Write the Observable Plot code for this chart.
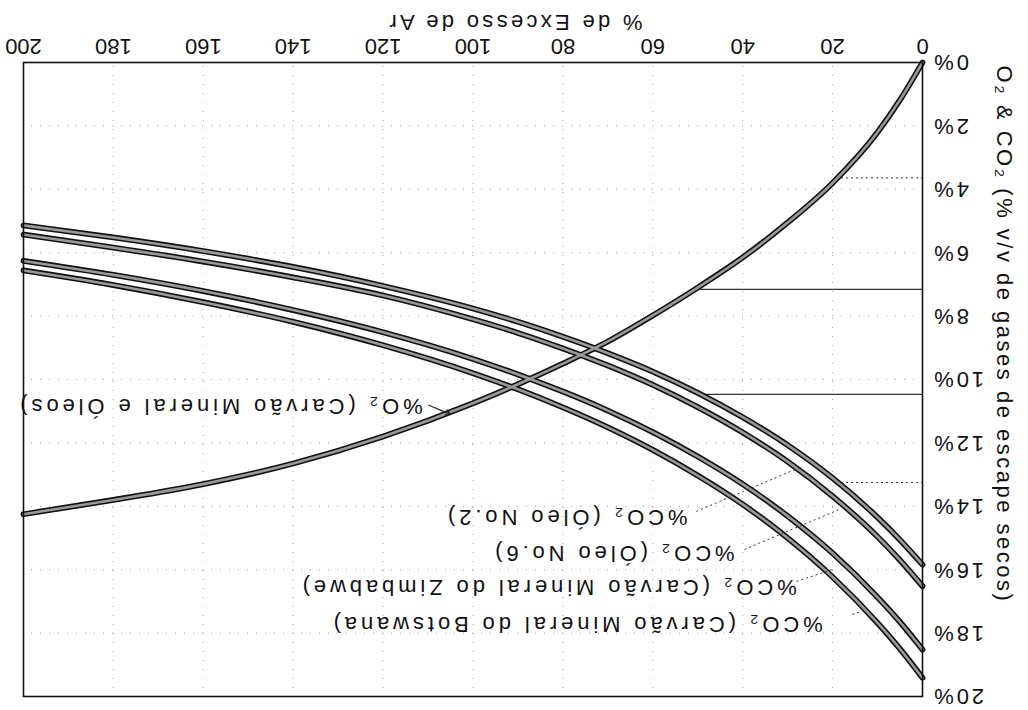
<!DOCTYPE html>
<html>
<head>
<meta charset="utf-8">
<script src="https://cdn.jsdelivr.net/npm/d3@7"></script>
<script src="https://cdn.jsdelivr.net/npm/@observablehq/plot@0.6"></script>
<style>
  html, body { margin: 0; padding: 0; background: #fff; overflow: hidden; }
  #wrap { width: 1028px; height: 710px; transform: rotate(180deg); transform-origin: 50% 50%; }
  #wrap svg { display: block; }
  #wrap svg text { font-family: "Liberation Sans", Arial, sans-serif !important; letter-spacing: 3.9px; }
  #wrap svg [aria-label^="x-axis"] text { letter-spacing: 0px !important; }
  #wrap svg [aria-label^="y-axis"] text { letter-spacing: 2.8px !important; }
  #wrap svg text.ytitle { letter-spacing: 2.5px !important; }
  #wrap svg text.xtitle { letter-spacing: 3.3px !important; }
</style>
</head>
<body>
<div id="wrap"></div>
<script>
// % de Excesso de Ar
const excessAir = [0, 5, 10, 20, 30, 40, 50, 60, 70, 80, 90, 100, 120, 140, 160, 180, 200];
// %O2 (Carvão Mineral e Óleos)
const o2 = [0, 1.18, 2.2, 3.8, 5.05, 6.15, 7.1, 7.98, 8.8, 9.5, 10.15, 10.75, 11.8, 12.65, 13.3, 13.8, 14.25];
// %CO2 curves
const co2OleoNo2 = [15.84, 15.06, 14.35, 13.11, 12.07, 11.19, 10.42, 9.75, 9.17, 8.65, 8.18, 7.76, 7.05, 6.45, 5.95, 5.52, 5.14];
const co2OleoNo6 = [16.52, 15.70, 14.96, 13.68, 12.59, 11.67, 10.87, 10.17, 9.56, 9.02, 8.53, 8.10, 7.35, 6.78, 6.28, 5.84, 5.43];
const co2Zimbabwe = [18.52, 17.65, 16.87, 15.48, 14.31, 13.30, 12.43, 11.66, 10.98, 10.38, 9.84, 9.35, 8.51, 7.81, 7.21, 6.70, 6.26];
const co2Botswana = [19.41, 18.50, 17.68, 16.23, 15.00, 13.94, 13.03, 12.22, 11.51, 10.88, 10.31, 9.80, 8.92, 8.18, 7.56, 7.02, 6.56];

const seriesNames = ["O2", "Óleo No.2", "Óleo No.6", "Zimbabwe", "Botswana"];
const seriesValues = [o2, co2OleoNo2, co2OleoNo6, co2Zimbabwe, co2Botswana];

const xTicks = [0, 20, 40, 60, 80, 100, 120, 140, 160, 180, 200];
const yTicks = [0, 2, 4, 6, 8, 10, 12, 14, 16, 18, 20];

const xTitle = "% de Excesso de Ar";
const yTitle = "O₂ & CO₂ (% v/v de gases de escape secos)";

// curve labels
const labelTexts = ["%CO₂ (Óleo No.2)", "%CO₂ (Óleo No.6)", "%CO₂ (Carvão Mineral do Zimbabwe)", "%CO₂ (Carvão Mineral do Botswana)", "%O₂ (Carvão Mineral e Óleos)"];
const labelAtX = [52.3, 41.8, 28.0, 22.2, 111.2];
const labelAtY = [14.35, 15.46, 16.56, 17.73, 10.85];

// leader lines (from label to curve)
const leaderX1 = [50.3, 39.6, 28.0, 15.6];
const leaderY1 = [14.16, 15.36, 16.37, 17.41];
const leaderX2 = [26.7, 18.5, 20.0, 13.6];
const leaderY2 = [12.74, 14.10, 15.99, 17.32];

// reading lines drawn on the original chart
const readSolidY = [7.16, 10.47];
const readSolidX2 = [49.6, 49.0];
const readDotY = [3.64, 13.25];
const readDotX2 = [18.3, 18.0];

const curves = seriesNames.flatMap((name, i) =>
  excessAir.map((ea, j) => ({series: name, ea, v: seriesValues[i][j]})));
const labels = labelTexts.map((t, i) => ({t, x: labelAtX[i], y: labelAtY[i]}));
const leaders = leaderX1.map((x1, i) => ({x1, y1: leaderY1[i], x2: leaderX2[i], y2: leaderY2[i]}));
const readSolid = readSolidY.map((y, i) => ({y, x2: readSolidX2[i]}));
const readDot = readDotY.map((y, i) => ({y, x2: readDotX2[i]}));

const chart = Plot.plot({
  width: 1028,
  height: 710,
  marginLeft: 105,
  marginRight: 24,
  marginTop: 13,
  marginBottom: 63,
  style: {fontFamily: "'Liberation Sans', Arial, sans-serif", fontSize: "22px", color: "#111", background: "#fff"},
  x: {domain: [0, 200], ticks: xTicks, tickSize: 0, tickPadding: 8, label: null},
  y: {domain: [0, 20], ticks: yTicks, tickSize: 0, tickPadding: 9, tickFormat: d => d + "%", label: null},
  marks: [
    Plot.ruleX(xTicks.slice(1, -1), {stroke: "#777", strokeDasharray: "1,8", strokeOpacity: 0.7}),
    Plot.ruleY(yTicks.slice(1, -1), {stroke: "#777", strokeDasharray: "1,8", strokeOpacity: 0.7}),
    Plot.ruleY(readSolid, {y: "y", x1: 0, x2: "x2", stroke: "#333", strokeWidth: 1.2}),
    Plot.ruleY(readDot, {y: "y", x1: 0, x2: "x2", stroke: "#333", strokeWidth: 1, strokeDasharray: "2,3"}),
    Plot.line(curves, {x: "ea", y: "v", z: "series", curve: "monotone-x", stroke: "#111", strokeWidth: 5.8}),
    Plot.line(curves, {x: "ea", y: "v", z: "series", curve: "monotone-x", stroke: "#9a9a9a", strokeWidth: 2.6}),
    Plot.link(leaders, {x1: "x1", y1: "y1", x2: "x2", y2: "y2", stroke: "#333", strokeWidth: 1, strokeDasharray: "2,3"}),
    Plot.arrow([{x1: 109.8, y1: 10.81, x2: 105.0, y2: 11.1}], {x1: "x1", y1: "y1", x2: "x2", y2: "y2", stroke: "#222", strokeWidth: 1.2, headLength: 7, bend: 0}),
    Plot.text(labels, {x: "x", y: "y", text: "t", textAnchor: "start", fontSize: 22, fill: "#111"}),
    Plot.text([xTitle], {frameAnchor: "bottom", x: () => 90.8, dy: 48, text: d => d, textAnchor: "middle", fontSize: 22, fill: "#111"}),
    Plot.text([yTitle], {frameAnchor: "left", y: () => 8.58, dx: -82, rotate: -90, text: d => d, textAnchor: "middle", fontSize: 22, fill: "#111"}),
    Plot.frame({stroke: "#111", strokeWidth: 1.6})
  ]
});

const svgNode = chart.tagName.toLowerCase() === "svg" ? chart : chart.querySelector("svg");
// tag the axis titles so their letter-spacing can be set
d3.select(svgNode).selectAll("text").filter(function() { return this.textContent === yTitle; }).classed("ytitle", true);
d3.select(svgNode).selectAll("text").filter(function() { return this.textContent === xTitle; }).classed("xtitle", true);
document.getElementById("wrap").appendChild(chart);
</script>
</body>
</html>
